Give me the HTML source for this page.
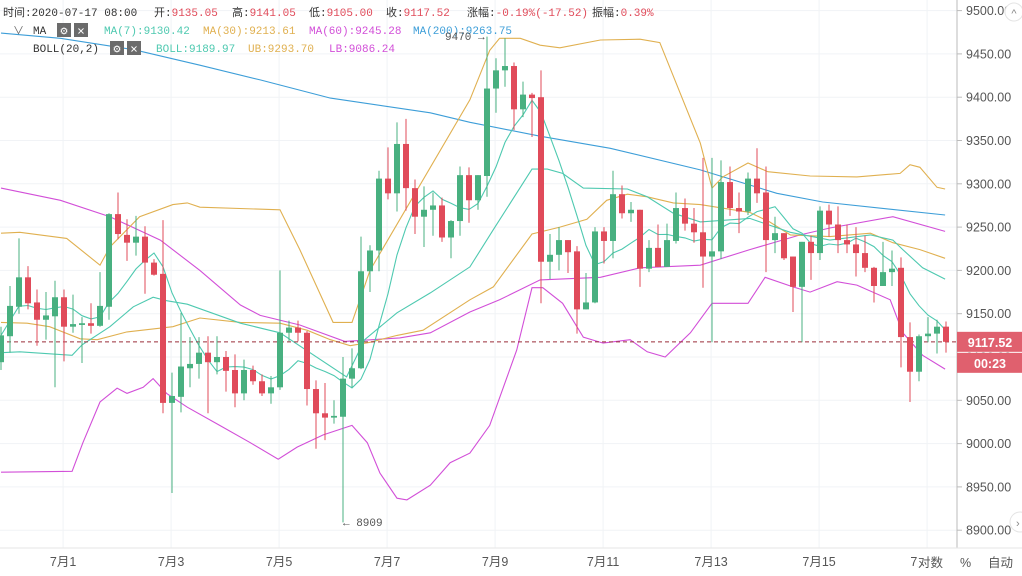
<!DOCTYPE html>
<html><head><meta charset="utf-8">
<style>
html,body{margin:0;padding:0;background:#fff;}
svg{display:block;}
.hd{font-family:"Liberation Mono","Noto Sans CJK SC",monospace;font-size:11px;}
.ax{font-family:"Liberation Sans","Noto Sans CJK SC",sans-serif;font-size:12.5px;fill:#555;}
</style></head>
<body>
<svg id="chart" width="1022" height="576" viewBox="0 0 1022 576" xmlns="http://www.w3.org/2000/svg">
<rect x="0" y="0" width="1022" height="576" fill="#fff"/>
<g id="grid"></g>
<g id="lines"></g>
<g id="candles"></g>
<g id="yaxis"></g>
<g id="xaxis"></g>

<g class="hd">
<text x="3" y="16" fill="#333">时间:2020-07-17 08:00</text>
<text x="154" y="16" fill="#333">开:<tspan fill="#e04b5a">9135.05</tspan></text>
<text x="232" y="16" fill="#333">高:<tspan fill="#e04b5a">9141.05</tspan></text>
<text x="309" y="16" fill="#333">低:<tspan fill="#e04b5a">9105.00</tspan></text>
<text x="386" y="16" fill="#333">收:<tspan fill="#e04b5a">9117.52</tspan></text>
<text x="467" y="16" fill="#333">涨幅:<tspan fill="#e04b5a">-0.19%(-17.52)</tspan></text>
<text x="592" y="16" fill="#333">振幅:<tspan fill="#e04b5a">0.39%</tspan></text>

<text x="13" y="34" fill="#666">∨</text>
<text x="33" y="34" fill="#333">MA</text>
<rect x="57" y="23" width="14" height="14" fill="#6b6b6b"/>
<text x="64" y="34.5" fill="#fff" text-anchor="middle" font-size="12">⚙</text>
<rect x="74" y="23" width="14" height="14" fill="#6b6b6b"/>
<text x="81" y="34.5" fill="#fff" text-anchor="middle" font-size="12">✕</text>
<text x="104" y="34" fill="#4ec9b0">MA(7):9130.42</text>
<text x="203" y="34" fill="#e0b050">MA(30):9213.61</text>
<text x="309" y="34" fill="#d24fd8">MA(60):9245.28</text>
<text x="413" y="34" fill="#3d9ed8">MA(200):9263.75</text>

<text x="33" y="52" fill="#333">BOLL(20,2)</text>
<rect x="110" y="41" width="14" height="14" fill="#6b6b6b"/>
<text x="117" y="52.5" fill="#fff" text-anchor="middle" font-size="12">⚙</text>
<rect x="127" y="41" width="14" height="14" fill="#6b6b6b"/>
<text x="134" y="52.5" fill="#fff" text-anchor="middle" font-size="12">✕</text>
<text x="156" y="52" fill="#4ec9b0">BOLL:9189.97</text>
<text x="248" y="52" fill="#e0b050">UB:9293.70</text>
<text x="329" y="52" fill="#d24fd8">LB:9086.24</text>
</g>

<text x="445" y="40" class="hd" font-size="10.5" fill="#555">9470 →</text>
<text x="343" y="526" class="hd" font-size="10.5" fill="#555">← 8909</text>

<circle cx="1014" cy="12" r="9" fill="#fff" stroke="#e4e4e4"/>
<text x="1014" y="17" text-anchor="middle" font-size="11" fill="#888" font-family="Liberation Sans">^</text>
<circle cx="1020" cy="522" r="10" fill="#fff" stroke="#e4e4e4"/>
<text x="1016" y="527" font-size="11" fill="#888" font-family="Liberation Sans">›</text>
</svg>
<script>
// ---- data ----
const opens  = [9094,9124,9158,9192,9163,9143,9147,9169,9135,9137,9139,9136,9158,9265,9241,9232,9239,9209,9196,9047,9054,9087,9092,9105,9094,9100,9085,9058,9085,9072,9058,9065,9128,9134,9128,9063,9035,9030,9031,9075,9087,9199,9223,9306,9289,9346,9295,9262,9270,9275,9238,9257,9310,9281,9309,9410,9431,9436,9386,9403,9400,9210,9218,9235,9222,9155,9163,9245,9234,9288,9266,9270,9202,9226,9204,9234,9272,9254,9244,9216,9222,9302,9272,9268,9306,9290,9235,9243,9216,9181,9233,9220,9269,9253,9235,9230,9220,9203,9182,9198,9203,9123,9083,9124,9127,9135.05];
const highs  = [9135,9182,9237,9205,9178,9175,9188,9178,9172,9146,9162,9198,9266,9290,9259,9263,9251,9213,9258,9082,9151,9123,9123,9124,9124,9107,9103,9097,9090,9080,9078,9200,9142,9142,9130,9073,9070,9050,9100,9110,9239,9229,9315,9342,9371,9375,9305,9297,9290,9284,9258,9320,9319,9310,9470,9445,9468,9440,9418,9405,9431,9242,9250,9235,9228,9197,9250,9250,9315,9298,9279,9270,9235,9253,9254,9290,9283,9272,9330,9330,9327,9320,9290,9313,9341,9320,9262,9243,9216,9233,9240,9274,9276,9274,9253,9250,9240,9204,9233,9223,9215,9140,9126,9146,9143,9141.05];
const lows   = [9085,9105,9150,9155,9113,9120,9065,9095,9128,9093,9127,9135,9143,9236,9211,9217,9173,9194,9035,8943,9036,9065,9075,9035,9080,9060,9042,9050,9068,9055,9046,9062,9118,9118,9044,8994,9004,9023,8909,9065,9086,9175,9199,9282,9268,9269,9242,9227,9240,9233,9214,9240,9255,9270,9285,9382,9412,9362,9377,9354,9162,9190,9200,9197,9127,9155,9162,9208,9214,9260,9256,9181,9198,9204,9204,9231,9246,9232,9180,9117,9213,9263,9243,9264,9278,9198,9220,9212,9152,9117,9189,9212,9239,9220,9220,9193,9198,9163,9182,9182,9088,9048,9072,9117,9104,9105.00];
const closes = [9125,9159,9192,9162,9143,9148,9169,9135,9138,9139,9136,9159,9265,9242,9232,9239,9209,9195,9047,9055,9089,9092,9105,9094,9100,9084,9058,9085,9072,9058,9065,9128,9134,9128,9063,9035,9030,9032,9075,9087,9199,9223,9306,9289,9346,9295,9262,9270,9275,9238,9257,9310,9281,9310,9410,9431,9436,9386,9403,9399,9210,9218,9235,9221,9155,9163,9245,9234,9288,9266,9270,9202,9226,9204,9235,9272,9254,9244,9216,9222,9302,9272,9268,9306,9289,9235,9243,9214,9181,9233,9220,9269,9253,9235,9230,9220,9203,9182,9198,9202,9123,9083,9124,9127,9135,9117.52];

const ma200Idx = [0,6.6,14.7,22.1,28.8,36.6,47.7,52.1,59.9,67.7,77.7,86.2,91.3,104.9];
const ma200Val = [9474,9468,9455,9437,9420,9399,9382,9371,9355,9341,9316,9289,9279,9264];
const ma60Idx = [0,6.6,12.1,17.7,22.1,26.6,28.8,33.2,38.2,44.3,47.7,52.1,55.4,59.9,66.6,71,77.7,83.2,88.8,92.1,99.1,104.9];
const ma60Val = [9295,9281,9262,9235,9200,9160,9148,9137,9118,9122,9128,9152,9166,9189,9192,9203,9206,9224,9241,9249,9262,9245];
const ma30Idx = [0,2.9,5.4,8.8,10.7,14,19.1,22.1,26.6,31,34,36.6,38.8,41,44,46.9,52.1,54.7,59,62.1,65.1,67.3,69.6,71.8,74.7,77.7,83.2,85.4,87.7,92.1,96.6,99.1,102.1,104.9];
const ma30Val = [9140,9139,9135,9121,9120,9129,9135,9145,9140,9139,9131,9120,9113,9117,9125,9131,9166,9181,9242,9250,9259,9281,9288,9285,9278,9276,9267,9256,9241,9239,9243,9232,9224,9214];
const bollMidIdx = [0,2.1,7.9,9,12.1,14.7,16.9,18.4,20.7,26.6,31,38.4,40.4,44,47.7,52.1,54.7,59,60.7,62.4,64.7,69.6,71.8,74.7,77.7,83.2,87.7,92.1,96.6,99.1,100.2,102.4,104.9];
const bollMidVal = [9105,9106,9102,9114,9135,9158,9169,9165,9161,9139,9128,9077,9120,9151,9174,9204,9247,9317,9317,9312,9295,9294,9285,9266,9256,9260,9244,9235,9241,9235,9224,9203,9190];
const bollUbIdx = [0,2.1,7.3,11,12.1,15.4,19.1,20.7,22.1,31,33.2,36.9,39,41,52.1,54.3,55.4,57.7,59.9,62.1,66.6,71,73.2,77.7,79,80.2,83,85.2,89.9,95.1,99.9,101,102.1,104,104.9];
const bollUbVal = [9243,9244,9237,9206,9227,9262,9276,9278,9273,9270,9224,9140,9140,9200,9397,9454,9468,9468,9460,9457,9466,9467,9463,9347,9295,9308,9324,9314,9309,9308,9312,9322,9319,9296,9294];
const bollLbIdx = [0,7.9,9.1,11,12.9,14,15.8,16.9,18.4,20.7,24.3,27.7,30.8,32.9,35.8,39,40.7,42.1,44,45.1,47.7,49.9,52.1,54.3,57.3,59,60.2,62.4,64.7,66.9,69.9,71.8,73.8,76.6,79,83,84.9,88,89.9,92.9,95.1,98.8,100.2,102.4,104.9];
const bollLbVal = [8967,8968,9001,9048,9064,9058,9065,9075,9058,9042,9021,9001,8982,8996,9010,9021,9001,8966,8937,8935,8952,8978,8989,9021,9108,9180,9180,9162,9123,9116,9120,9106,9100,9128,9162,9162,9192,9181,9175,9187,9183,9166,9128,9102,9086];

const yTicks = [8900,8950,9000,9050,9100,9150,9200,9250,9300,9350,9400,9450,9500];
const dayLabels = ["7月1","7月3","7月5","7月7","7月9","7月11","7月13","7月15","7月17"];
const dayIdx = [6.9,18.9,30.9,42.9,54.9,66.9,78.9,90.9,102.9];

// ---- scales ----
const NS='http://www.w3.org/2000/svg';
const PLOT_R = 957;
function xS(i){ return 1 + 9.0*i; }
function yS(p){ return 357 - (p-9100)*0.866; }
function mk(tag, attrs, parent){
  const e=document.createElementNS(NS,tag);
  for(const k in attrs) e.setAttribute(k,attrs[k]);
  parent.appendChild(e); return e;
}
const grid=document.getElementById('grid');
const lines=document.getElementById('lines');
const cg=document.getElementById('candles');
const ya=document.getElementById('yaxis');
const xa=document.getElementById('xaxis');

// grid
yTicks.forEach(t=>{
  const l=mk('line',{x1:0,x2:PLOT_R,y1:yS(t),y2:yS(t),stroke:'#f1f3f6','stroke-width':1},grid);
  
  
});
dayIdx.forEach(d=>{
  const l=mk('line',{x1:xS(d),x2:xS(d),y1:0,y2:548,stroke:'#f1f3f6','stroke-width':1},grid);
  
  
});

// indicator lines
function poly(idx,val,color,name){
  const pts=idx.map((d,k)=>xS(d).toFixed(1)+','+yS(val[k]).toFixed(1)).join(' ');
  const p=mk('polyline',{points:pts,fill:'none',stroke:color,'stroke-width':1.1},lines);
  
  
}
poly(ma200Idx,ma200Val,'#3d9ed8','ma200-line');
poly(ma60Idx,ma60Val,'#d24fd8','ma60-line');
poly(ma30Idx,ma30Val,'#e0b050','ma30-line');
poly(bollUbIdx,bollUbVal,'#e0b050','boll-upper-line');
poly(bollLbIdx,bollLbVal,'#d24fd8','boll-lower-line');
poly(bollMidIdx,bollMidVal,'#4ec9b0','boll-mid-line');
const ma7Idx=[], ma7Val=[];
for(let i=0;i<closes.length;i++){
  const s=Math.max(0,i-6); let sum=0;
  for(let j=s;j<=i;j++) sum+=closes[j];
  ma7Idx.push(i); ma7Val.push(sum/(i-s+1));
}
poly(ma7Idx,ma7Val,'#4ec9b0','ma7-line');

// last price dashed line
const last=closes[closes.length-1];
const dl=mk('line',{x1:0,x2:PLOT_R,y1:yS(last),y2:yS(last),stroke:'#9b2d3a','stroke-width':1,'stroke-dasharray':'4,3'},cg);



// candles
for(let i=0;i<closes.length;i++){
  const up=closes[i]>=opens[i];
  const col=up?'#48b080':'#e04b5a';
  const x=xS(i);
  const w=mk('line',{x1:x,x2:x,y1:yS(highs[i]),y2:yS(lows[i]),stroke:col,'stroke-width':1},cg);
  
  
  const t=yS(Math.max(opens[i],closes[i])), b=yS(Math.min(opens[i],closes[i]));
  const r=mk('rect',{x:x-3,y:t,width:6,height:Math.max(1.2,b-t),fill:col},cg);
  
  
}

// y axis
const axl=mk('line',{x1:957,x2:957,y1:0,y2:548,stroke:'#bbb','stroke-width':1},ya);


yTicks.forEach(t=>{
  const tk=mk('line',{x1:957,x2:962,y1:yS(t),y2:yS(t),stroke:'#bbb'},ya);
  
  
  const tx=mk('text',{x:966,y:yS(t)+4.5,class:'ax'},ya);
  tx.textContent=t.toFixed(2);
  
  
});
// price tags
const ly=yS(last);
const tag1=mk('rect',{x:957,y:ly-10,width:65,height:20,fill:'#e0606e'},ya);


const tt1=mk('text',{x:990,y:ly+5,'text-anchor':'middle',fill:'#fff','font-weight':'bold','font-size':'12.5','font-family':'Liberation Sans'},ya);
tt1.textContent=last.toFixed(2);


const tag2=mk('rect',{x:957,y:ly+11,width:65,height:20,fill:'#e0606e'},ya);


const tt2=mk('text',{x:990,y:ly+26,'text-anchor':'middle',fill:'#fff','font-weight':'bold','font-size':'12.5','font-family':'Liberation Sans'},ya);
tt2.textContent='00:23';



// x axis
const xl=mk('line',{x1:0,x2:1022,y1:548,y2:548,stroke:'#e6e6e6'},xa);


dayLabels.forEach((d,k)=>{
  const tx=mk('text',{x:xS(dayIdx[k]),y:566,'text-anchor':'middle',class:'ax','font-size':'12',fill:'#333'},xa);
  tx.textContent=d;
  
  
});
const bg=mk('rect',{x:918,y:550,width:104,height:26,fill:'#fff'},xa);


const b1=mk('text',{x:918,y:567,class:'ax','font-size':'13',fill:'#333'},xa);
b1.textContent='对数';


const b2=mk('text',{x:960,y:567,class:'ax','font-size':'13',fill:'#333'},xa);
b2.textContent='%';


const b3=mk('text',{x:988,y:567,class:'ax','font-size':'13',fill:'#3d8fd8'},xa);
b3.textContent='自动';


</script>
</body></html>
